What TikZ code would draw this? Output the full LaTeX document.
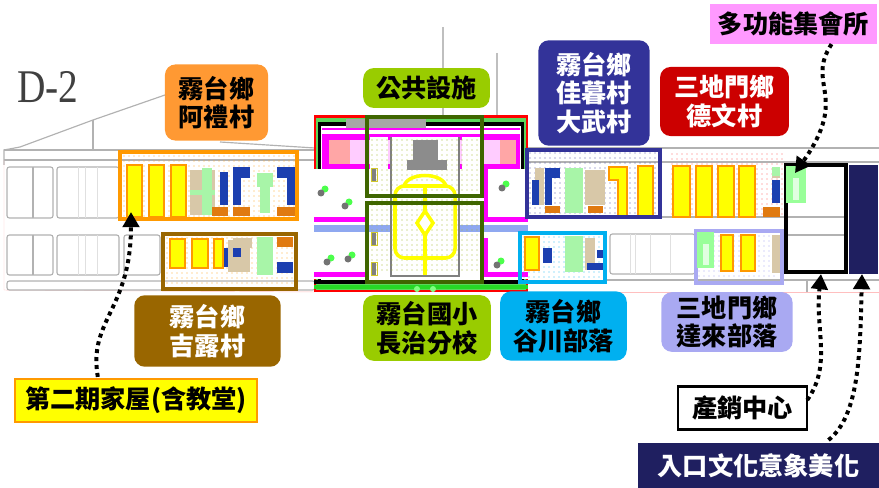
\documentclass[tikz,border=0pt]{standalone}
\usepackage{fontspec}
\usetikzlibrary{arrows.meta}
\setmainfont{Noto Sans CJK TC}
\newfontfamily\latinserif{Liberation Serif}
\definecolor{plotorange}{HTML}{FF9900}
\definecolor{plotbrown}{HTML}{996600}
\definecolor{plotnavy}{HTML}{333399}
\definecolor{plotcyan}{HTML}{00B0F0}
\definecolor{plotlav}{HTML}{A9A9F2}
\definecolor{tagorange}{HTML}{FF9933}
\definecolor{tagred}{HTML}{CC0000}
\definecolor{tagpink}{HTML}{FF99FF}
\definecolor{taggreen}{HTML}{99CC00}
\definecolor{entrynavy}{HTML}{1F1F60}
\definecolor{schoolgreen}{HTML}{3F6600}
\definecolor{planblue}{HTML}{8FA8F0}
\definecolor{roofblue}{HTML}{1C3FB0}
\definecolor{rooforange}{HTML}{E07A10}
\definecolor{yardgreen}{HTML}{A8F5A8}
\definecolor{tan}{HTML}{D8C8A8}
\definecolor{planpink}{HTML}{FF00FF}
\definecolor{planred}{HTML}{FF0000}
\definecolor{planyellow}{HTML}{FFFF00}
\tikzset{
    tag/.style={rounded corners=9pt,align=center,inner sep=0pt,font=\fontsize{21.5}{24.5}\selectfont\bfseries},
    flat/.style={align=center,inner sep=0pt,font=\fontsize{21.5}{24.5}\selectfont\bfseries},
    house/.style={draw=plotorange,fill=planyellow,line width=1.6pt},
    frame/.style={line width=3pt},
    wall/.style={draw=black!30,line width=1pt},
    lot/.style={draw=black!30,line width=1pt,rounded corners=2pt,fill=white},
    link/.style={line width=3.4pt,dash pattern=on 3.4pt off 3.4pt,-{Stealth[length=13pt,width=14pt,inset=0pt]}},
}
\begin{document}
\begin{tikzpicture}[x=0.03cm,y=-0.03cm]
    \useasboundingbox (0,0) rectangle (879,488);
    % outline of the street plan
    \draw[wall] (4,165) -- (4,150) -- (20,147) -- (93,120) -- (165,95);
    \draw[wall] (93,120) -- (93,150);
    \draw[wall] (220,142) -- (315,148);
    \draw[wall] (4,150) -- (315,150);
    \draw[wall] (4,160) -- (315,160);
    \draw[wall] (528,148) -- (879,148);
    \draw[wall] (528,162) -- (879,162);
    \draw[black!25,line width=2pt] (443,27) -- (443,115);
    \draw[black!25,line width=2pt] (497,53) -- (497,115);
    \draw[draw=red!25] (4,160) -- (4,290) -- (315,292);
    \draw[draw=red!25] (528,292) -- (879,292);
    \draw[wall] (606,280) -- (879,280);
    \draw[wall] (807,280) -- (807,292);
    \draw[lot] (7,167) rectangle (53,218);
    \draw[wall] (33,167) -- (33,218);
    \draw[lot] (57,167) rectangle (119,218);
    \foreach \x in {78,85,97}
        \draw[black!12] (\x,167) -- (\x,218);
    \draw[lot] (7,235) rectangle (53,275);
    \draw[wall] (33,235) -- (33,275);
    \draw[lot] (57,235) rectangle (119,275);
    \foreach \x in {78,85,97}
        \draw[black!12] (\x,235) -- (\x,275);
    \draw[lot] (124,235) rectangle (160,275);
    \draw[lot] (7,281) rectangle (315,290);
    \draw[lot] (610,234) rectangle (695,274);
    \foreach \x in {630,635,650,670}
        \draw[black!12] (\x,234) -- (\x,274);
    \draw[wall] (660,217) -- (846,217);
    \draw[wall] (782,235) -- (846,235);
    %
    % central campus
    \fill[planred] (314,115) rectangle (528,292);
    \fill[green!60!gray!80] (316,118) rectangle (526,290);
    \fill[black] (318,122) rectangle (524,284);
    \fill[white] (321,126) rectangle (521,284);
    \fill[white] (314,169) rectangle (528,279);
    \draw[planpink,line width=2pt] (322,129) -- (520,129);
    \fill[planpink] (322,134) rectangle (520,169);
    \fill[red!35] (329,140) rectangle (350,164);
    \fill[planpink!20] (350,140) rectangle (392,164);
    \fill[red!35] (500,140) rectangle (516,164);
    \fill[planpink!20] (458,140) rectangle (500,164);
    \fill[black!35] (346,119) rectangle (426,128);
    % courtyards
    \fill[planpink] (314,217) rectangle (367,222);
    \fill[planpink] (484,217) rectangle (528,222);
    \fill[planpink] (314,272) rectangle (367,277);
    \fill[planpink] (484,272) rectangle (528,277);
    \fill[planpink] (484,169) rectangle (488,222);
    \fill[planpink] (484,238) rectangle (488,277);
    \fill[black] (314,280) rectangle (528,284);
    \fill[green!70!gray] (314,285) rectangle (528,289);
    \fill[planblue] (314,225) rectangle (528,232);
    \foreach \x/\y in {321/193,345/206,380/189,502/188,327/262,348/259,497/265,471/246}{
        \fill[green!70] (\x+4,\y-4) circle (3.5);
        \fill[black!55] (\x,\y) circle (3.5);
    }
    % school buildings and yard
    \fill[white] (370,137) rectangle (388,276);
    \fill[white] (462,137) rectangle (480,276);
    \fill[white] (392,137) rectangle (458,276);
    \fill[planblue] (367,225) rectangle (392,232);
    \fill[planblue] (458,225) rectangle (482,232);
    \draw[black!50,line width=1.3pt] (391,137) -- (391,276) -- (459,276) -- (459,137);
    \foreach \x in {372,377,...,480}
        \foreach \y in {140,145,...,274}
            \fill[yellow!75!green!80!black] (\x,\y) circle (.7);
    \fill[black!45] (413,140) rectangle (438,160);
    \fill[black!45] (407,160) rectangle (447,170);
    \draw[planyellow,line width=3pt,rounded corners=8pt] (395,258) -- (395,186) -- (455,186) -- (455,258) -- cycle;
    \draw[planyellow,line width=3pt] (404,186) .. controls (408,172) and (442,172) .. (446,186);
    \draw[planyellow,line width=3pt,fill=white] (425,211) -- (433,223) -- (425,235) -- (417,223) -- cycle;
    \draw[planyellow,line width=3pt] (425,186) -- (425,211) (425,235) -- (425,275);
    \foreach \y in {168,232,262}{
        \fill[black!50] (372,\y) rectangle (376,\y+13);
        \draw[yellow!80!black] (371,\y) rectangle (377,\y+13);
    }
    \fill[green!50] (417,289) circle (3) (433,289) circle (3);
    \draw[schoolgreen,frame] (367,117) rectangle (482,196);
    \draw[schoolgreen,frame] (367,203) rectangle (482,282);
    %
    % house plots with their dot fields
    \foreach \x in {124,129,...,294}
        \foreach \y in {156,161,...,216}
            \fill[plotorange!80] (\x,\y) circle (.7);
    \foreach \x in {167,172,...,292}
        \foreach \y in {238,243,...,286}
            \fill[plotorange!80] (\x,\y) circle (.7);
    \foreach \x in {530,535,...,658}
        \foreach \y in {153,158,...,214}
            \fill[plotnavy!80] (\x,\y) circle (.7);
    \foreach \x in {672,677,...,784}
        \foreach \y in {154,159,...,216}
            \fill[red!60] (\x,\y) circle (.7);
    \foreach \x in {524,529,...,602}
        \foreach \y in {237,242,...,279}
            \fill[plotcyan!80] (\x,\y) circle (.7);
    \foreach \x in {699,704,...,778}
        \foreach \y in {236,241,...,280}
            \fill[plotlav] (\x,\y) circle (.7);
    % garden beds, blue and orange roofs
    \foreach \xa/\ya/\xb/\yb in {190/170/215/215,233/238/252/248,535/168/544/205,585/170/605/205,
        228/240/250/272,585/238/595/270,772/167/780/178,772/235/780/273}
        \fill[tan] (\xa,\ya) rectangle (\xb,\yb);
    \foreach \xa/\ya/\xb/\yb in {202/168/212/215,190/190/215/195,260/173/270/213,257/173/273/187,
        257/237/273/275,565/168/583/213,565/236/583/272,772/167/780/176}
        \fill[yardgreen] (\xa,\ya) rectangle (\xb,\yb);
    \foreach \xa/\ya/\xb/\yb in {220/172/228/205,233/167/250/178,233/178/241/205,287/172/295/205,277/167/295/178,
        223/248/228/267,277/262/293/273,233/248/241/257,
        545/168/560/178,545/178/552/205,532/180/539/205,772/180/780/203,
        543/248/552/263,597/250/603/258,587/263/603/270}
        \fill[roofblue] (\xa,\ya) rectangle (\xb,\yb);
    \foreach \xa/\ya/\xb/\yb in {212/207/228/216,233/207/250/216,277/207/295/216,277/237/293/247,
        545/206/560/213,588/206/603/213,763/207/780/217,530/238/540/245}
        \fill[rooforange] (\xa,\ya) rectangle (\xb,\yb);
    % yellow houses
    \foreach \xa/\xb/\ya/\yb in {127/142/165/217,149/164/165/217,171/186/165/217,
        170/185/239/268,192/208/239/268,214/223/239/268,
        638/653/166/217,673/690/166/217,696/712/166/217,718/734/166/217,739/755/166/217,
        721/733/235/271,741/755/235/271,525/539/237/270}
        \draw[house] (\xa,\ya) rectangle (\xb,\yb);
    \draw[house] (609,167) -- (627,167) -- (627,218) -- (618,218) -- (618,180) -- (609,180) -- cycle;
    % frames
    \draw[plotorange,frame] (120,152) rectangle (297,219);
    \draw[plotbrown,frame] (163,234) rectangle (296,289);
    \draw[plotnavy,frame] (527,150) rectangle (660,217);
    \draw[plotcyan,frame] (520,233) rectangle (605,282);
    \draw[plotlav,frame] (696,231) rectangle (782,283);
    \draw[black,frame] (786,165) rectangle (846,272);
    \fill[entrynavy] (849,165) rectangle (878,274);
    \fill[green!40] (786,166) rectangle (806,203);
    \fill[green!40] (697,232) rectangle (714,268);
    \fill[green!12] (793,178) rectangle (799,200);
    \fill[green!12] (703,244) rectangle (709,265);
    %
    \node (d2) at (48,87) {\latinserif\fontsize{40}{40}\selectfont\color{black!75}\scalebox{.84}[1]{D-2}};
    \node[tag,fill=tagorange,minimum width=88pt,minimum height=65pt] (arli) at (216.5,102.5) {霧台鄉\\阿禮村};
    \node[tag,fill=taggreen,minimum width=108pt,minimum height=34pt] (public) at (426.5,88) {公共設施};
    \node[tag,fill=plotnavy,text=white,minimum width=95pt,minimum height=90pt] (jiamu) at (594,93) {霧台鄉\\佳暮村\\大武村};
    \node[tag,fill=tagred,text=white,minimum width=110pt,minimum height=59pt] (dewen) at (724.5,101.5) {三地門鄉\\德文村};
    \node[flat,fill=tagpink,minimum width=142pt,minimum height=34pt] (hall) at (793.5,24) {多功能集會所};
    \node[tag,fill=plotbrown,text=white,minimum width=125pt,minimum height=61pt] (jilu) at (207.5,331) {霧台鄉\\吉露村};
    \node[tag,fill=taggreen,minimum width=109pt,minimum height=56pt] (school) at (427,328) {霧台國小\\長治分校};
    \node[tag,fill=plotcyan,minimum width=108pt,minimum height=59pt] (guchuan) at (563.5,326) {霧台鄉\\谷川部落};
    \node[tag,fill=plotlav,minimum width=112pt,minimum height=51pt] (dalai) at (727,322) {三地門鄉\\達來部落};
    \node[flat,draw=plotorange,fill=planyellow,line width=1.6pt,minimum width=207pt,minimum height=37pt] (phase) at (136,400.5) {第二期家屋(含教堂)};
    \node[flat,draw=black,fill=white,line width=2.2pt,minimum width=110pt,minimum height=37pt] (market) at (742.5,408) {產銷中心};
    \node[flat,fill=entrynavy,text=white,minimum width=205pt,minimum height=38pt] (entry) at (758.5,465.5) {入口文化意象美化};
    % ends of the dotted arrows
    \coordinate (housetip) at (131,212);
    \coordinate (halltip) at (795,173);
    \coordinate (markettip) at (821,274);
    \coordinate (entrytip) at (862,274);
    \draw[link] (phase.north west) ++(84,-1) .. controls (88,320) and (131,310) .. (housetip);
    \draw[link] (hall.south) ++(38,0) .. controls (805,85) and (850,95) .. (halltip);
    \draw[link] (market.east) ++(-1,-8) .. controls (832,365) and (815,330) .. (markettip);
    \draw[link] (entry.north) ++(70,-3) .. controls (860,415) and (860,350) .. (entrytip);
\end{tikzpicture}
\end{document}
